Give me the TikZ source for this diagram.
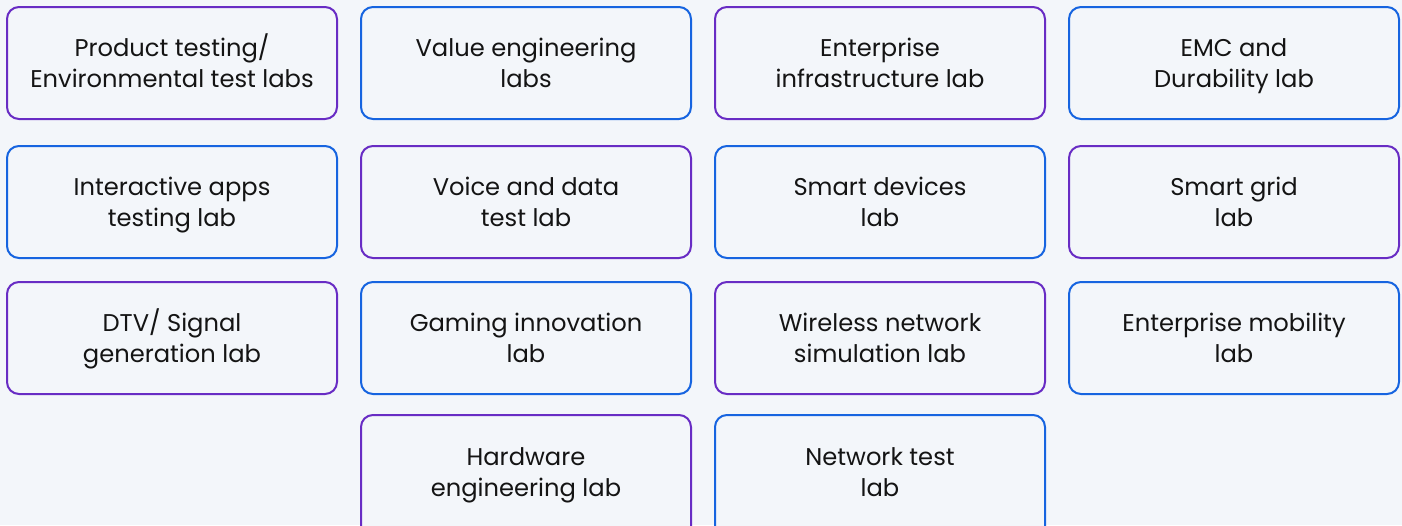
\documentclass[tikz,border=0pt]{standalone}
\usepackage{fontspec}
\setmainfont{Poppins}
\definecolor{bgc}{RGB}{243,246,250}
\definecolor{purp}{RGB}{104,44,196}
\definecolor{blu}{RGB}{22,100,224}
\definecolor{txt}{RGB}{20,20,20}
\newcommand\twolines[2]{\rule{0pt}{28pt}#1\\\strut#2}
\newcommand\twolinesup[2]{\rule{0pt}{18pt}#1\\\strut#2}
\begin{document}
\begin{tikzpicture}[x=1pt,y=-1pt,
  labbox/.style={draw, line width=2pt, rounded corners=12pt, fill=bgc,
    minimum width=330pt, minimum height=112pt, inner sep=0pt,
    align=center, text=txt, font=\fontsize{24.2}{31}\selectfont, anchor=north west},
  pbox/.style={labbox, draw=purp},
  bbox/.style={labbox, draw=blu}]
\path[use as bounding box, fill=bgc] (0,0) rectangle (1402,525);
\clip (0,0) rectangle (1402,525);
% row 1
\node[pbox] (r1c1) at (6,6) {\twolines{Product testing/}{Environmental test labs}};
\node[bbox] (r1c2) at (360,6) {\twolines{Value engineering}{labs}};
\node[pbox] (r1c3) at (714,6) {\twolines{Enterprise}{infrastructure lab}};
\node[bbox] (r1c4) at (1068,6) {\twolines{EMC and}{Durability lab}};
% row 2
\node[bbox] (r2c1) at (6,145) {\twolines{Interactive apps}{testing lab}};
\node[pbox] (r2c2) at (360,145) {\twolines{Voice and data}{test lab}};
\node[bbox] (r2c3) at (714,145) {\twolines{Smart devices}{lab}};
\node[pbox] (r2c4) at (1068,145) {\twolines{Smart grid}{lab}};
% row 3
\node[pbox] (r3c1) at (6,281) {\twolines{DTV/ Signal}{generation lab}};
\node[bbox] (r3c2) at (360,281) {\twolines{Gaming innovation}{lab}};
\node[pbox] (r3c3) at (714,281) {\twolines{Wireless network}{simulation lab}};
\node[bbox] (r3c4) at (1068,281) {\twolines{Enterprise mobility}{lab}};
% row 4 (runs past the lower edge)
\node[pbox, minimum height=124pt] (r4c2) at (360,414) {\twolinesup{Hardware}{engineering lab}};
\node[bbox, minimum height=124pt] (r4c3) at (714,414) {\twolinesup{Network test}{lab}};
\end{tikzpicture}
\end{document}
